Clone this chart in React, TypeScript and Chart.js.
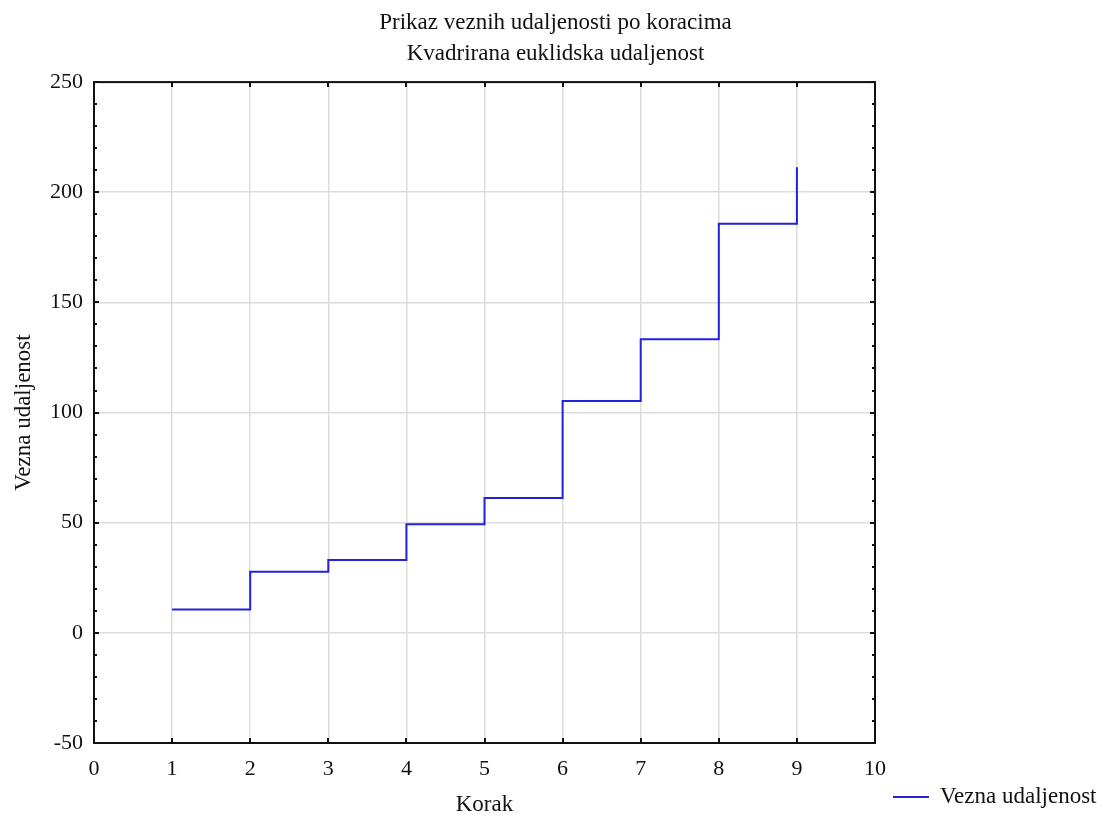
import React, { useEffect, useRef } from "react";
import { Chart, registerables } from "chart.js";

Chart.register(...registerables);

const titleLines = ["Prikaz veznih udaljenosti po koracima", "Kvadrirana euklidska udaljenost"];
const xTitle = "Korak";
const yTitle = "Vezna udaljenost";
const seriesLabel = "Vezna udaljenost";
const steps = [1, 2, 3, 4, 5, 6, 7, 8, 9];
const distances = [10.6, 27.7, 33.1, 49.3, 61.2, 105.2, 133.3, 185.7, 211.4];
const xMin = 0;
const xMax = 10;
const yMin = -50;
const yMax = 250;

const FONT = "'Liberation Serif', 'Times New Roman', serif";
const LINE_COLOR = "rgb(34,34,222)";

const framePlugin = {
  id: "frame",
  afterDraw(chart: any) {
    const { ctx, chartArea } = chart;
    const { left, right, top, bottom } = chartArea;
    const xs = chart.scales.x;
    const ys = chart.scales.y;
    ctx.save();
    ctx.strokeStyle = "#111";
    ctx.lineWidth = 2;
    ctx.strokeRect(left, top, right - left, bottom - top);
    ctx.lineWidth = 2;
    ctx.beginPath();
    for (let v = yMin; v <= yMax; v += 10) {
      const py = Math.round(ys.getPixelForValue(v));
      const len = v % 50 === 0 ? 5 : 3;
      ctx.moveTo(left, py);
      ctx.lineTo(left + len, py);
      ctx.moveTo(right, py);
      ctx.lineTo(right - len, py);
    }
    for (let v = xMin; v <= xMax; v += 1) {
      const px = Math.round(xs.getPixelForValue(v));
      ctx.moveTo(px, bottom);
      ctx.lineTo(px, bottom - 5);
      ctx.moveTo(px, top);
      ctx.lineTo(px, top + 5);
    }
    ctx.stroke();

    // legend
    const ds = chart.data.datasets[0];
    const lx = chart.width - 208;
    const ly = chart.height - 20;
    ctx.strokeStyle = ds.borderColor;
    ctx.lineWidth = 2;
    ctx.beginPath();
    ctx.moveTo(lx, ly);
    ctx.lineTo(lx + 36, ly);
    ctx.stroke();
    ctx.fillStyle = "#111";
    ctx.font = `23px ${FONT}`;
    ctx.textBaseline = "middle";
    ctx.textAlign = "left";
    ctx.fillText(ds.label, lx + 47, ly);
    ctx.restore();
  },
};

export default function App() {
  const ref = useRef<HTMLCanvasElement>(null);
  useEffect(() => {
    document.body.style.margin = "0";
    const canvas = ref.current!;
    const chart = new Chart(canvas, {
      type: "line",
      data: {
        datasets: [
          {
            label: seriesLabel,
            data: steps.map((s, i) => ({ x: s, y: distances[i] })),
            borderColor: LINE_COLOR,
            backgroundColor: LINE_COLOR,
            borderWidth: 2,
            pointRadius: 0,
            stepped: "before",
            fill: false,
          },
        ],
      },
      options: {
        animation: false,
        responsive: false,
        maintainAspectRatio: false,
        layout: { padding: { left: 10, right: 0, top: 0, bottom: 0 } },
        plugins: {
          legend: { display: false },
          tooltip: { enabled: false },
          title: {
            display: true,
            text: titleLines,
            color: "#111",
            font: { family: FONT, size: 23, weight: "normal", lineHeight: 1.35 },
            padding: { top: 7.5, bottom: 12.5 },
          },
        },
        scales: {
          x: {
            type: "linear",
            min: xMin,
            max: xMax,
            afterFit: (s: any) => {
              s.height = 74;
            },
            ticks: {
              stepSize: 1,
              color: "#111",
              padding: 13,
              maxRotation: 0,
              font: { family: FONT, size: 22 },
            },
            grid: { color: "#dcdcdc", lineWidth: 1.5, drawTicks: false },
            border: { display: false },
            title: {
              display: true,
              text: xTitle,
              color: "#111",
              font: { family: FONT, size: 23, lineHeight: 1.0 },
              padding: { top: 0, bottom: 0.5 },
            },
          },
          y: {
            type: "linear",
            min: yMin,
            max: yMax,
            afterFit: (s: any) => {
              s.width = 84;
            },
            ticks: {
              stepSize: 50,
              color: "#111",
              padding: 11,
              font: { family: FONT, size: 22 },
            },
            grid: { color: "#dcdcdc", lineWidth: 1.5, drawTicks: false },
            border: { display: false },
            title: {
              display: true,
              text: yTitle,
              color: "#111",
              font: { family: FONT, size: 23, lineHeight: 1.2 },
              padding: { top: 0, bottom: 0 },
            },
          },
          yRight: {
            type: "linear",
            position: "right",
            min: yMin,
            max: yMax,
            afterFit: (s: any) => {
              s.width = 226;
            },
            ticks: { display: false },
            grid: { display: false, drawTicks: false },
            border: { display: false },
          },
        },
      },
      plugins: [framePlugin],
    });
    return () => chart.destroy();
  }, []);
  return (
    <div style={{ width: 1101, height: 817, background: "#fff" }}>
      <canvas ref={ref} width={1101} height={817} style={{ display: "block" }} />
    </div>
  );
}
